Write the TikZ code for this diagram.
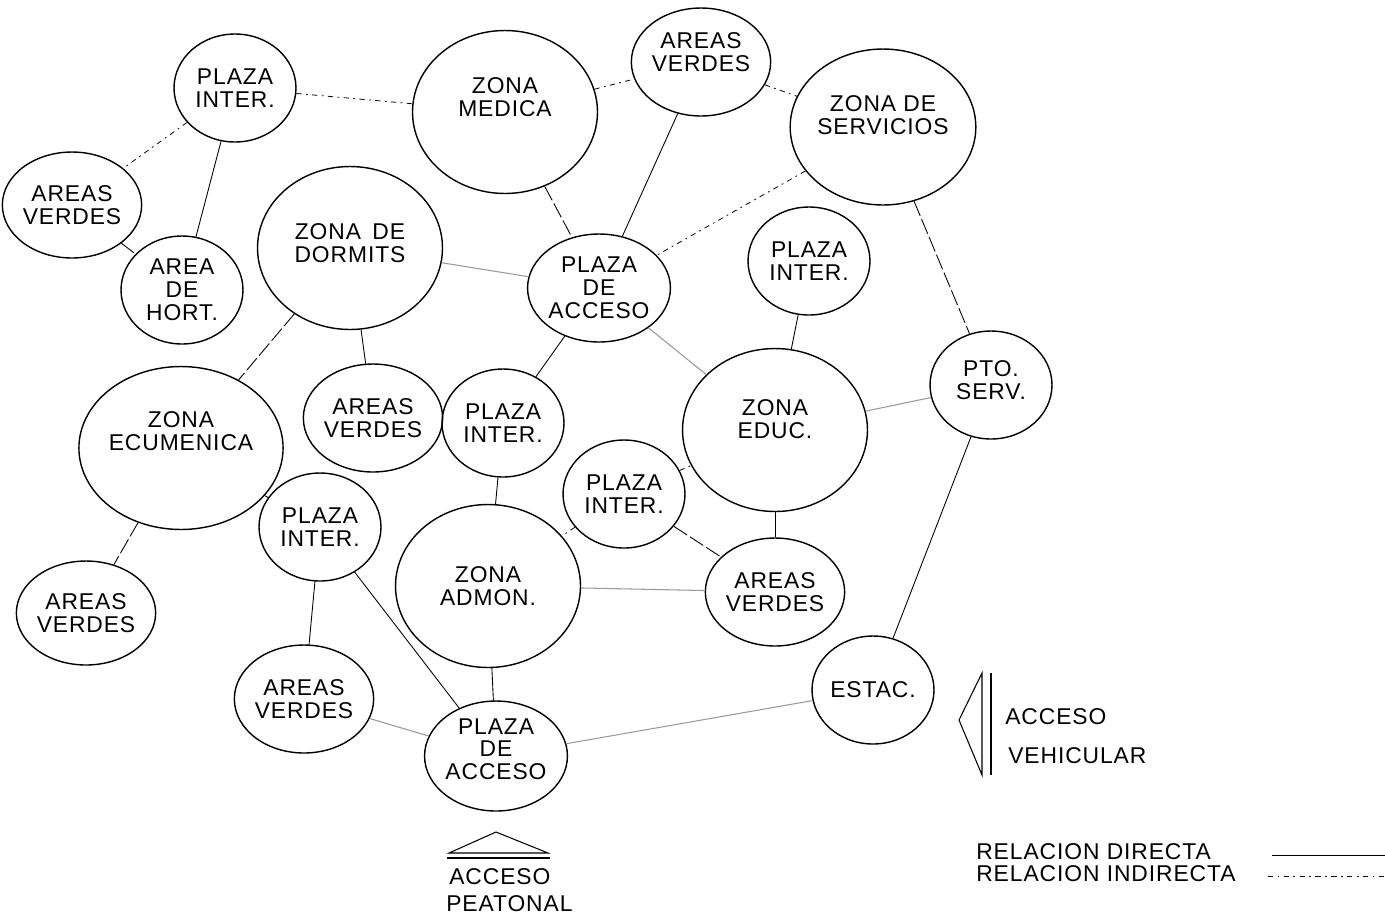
\documentclass[tikz,border=0pt]{standalone}
\usepackage{fontspec}
\setmainfont{Liberation Sans}
\usetikzlibrary{shapes.geometric}
\tikzset{
  zona/.style={ellipse, draw, line width=0.8pt, inner sep=0pt, align=center,
    font=\fontsize{13}{13}\selectfont\addfontfeature{LetterSpace=4}},
  chica/.style={zona, minimum width=2.44cm, minimum height=2.16cm},
  grande/.style={zona, minimum width=3.7cm, minimum height=3.26cm},
  sube/.style={text depth=#1},
  directa/.style={line width=0.5pt},
  discontinua/.style={line width=0.5pt, dash pattern=on 9pt off 2pt},
  indirecta/.style={line width=0.45pt, dash pattern=on 3pt off 2.5pt on 1pt off 2.5pt},
  tenue/.style={line width=0.6pt, black!40},
  rotulo/.style={font=\fontsize{13}{13}\selectfont\addfontfeature{LetterSpace=4}, inner sep=0pt, align=left}
}
\begin{document}
\begin{tikzpicture}[x=0.02cm, y=-0.02cm]
\useasboundingbox (0,0) rectangle (1385,917);

% zonas
\node[chica] (pit) at (235,88) {PLAZA\\INTER.};
\node[chica, minimum width=2.4cm, minimum height=2.12cm] (avi) at (72,205) {AREAS\\VERDES};
\node[chica] (hort) at (182,290) {AREA\\DE\\HORT.};
\node[grande, sube=0.2cm] (dorm) at (350,248) {ZONA\enspace DE\\DORMITS};
\node[grande, sube=0.6cm] (medica) at (505,112) {ZONA\\MEDICA};
\node[chica, sube=0.4cm] (avs) at (701,62) {AREAS\\VERDES};
\node[grande, minimum height=3.12cm, sube=0.48cm] (serv) at (883,127) {ZONA DE\\SERVICIOS};
\node[chica] (pacs) at (599,288) {PLAZA\\DE\\ACCESO};
\node[chica] (pid) at (809,261) {PLAZA\\INTER.};
\node[chica, sube=0.2cm] (pto) at (991,385) {PTO.\\SERV.};
\node[grande, sube=0.44cm] (educ) at (775,430) {ZONA\\EDUC.};
\node[grande, sube=0.68cm] (ecum) at (181,448) {ZONA\\ECUMENICA};
\node[chica] (avc) at (373,418) {AREAS\\VERDES};
\node[chica] (pic) at (503,423) {PLAZA\\INTER.};
\node[chica] (pim) at (624,494) {PLAZA\\INTER.};
\node[chica] (pii) at (320,527) {PLAZA\\INTER.};
\node[chica, minimum height=2.08cm] (avii) at (86,613) {AREAS\\VERDES};
\node[grande] (admon) at (488,586) {ZONA\\ADMON.};
\node[chica] (avd) at (775,592) {AREAS\\VERDES};
\node[chica] (avinf) at (304,699) {AREAS\\VERDES};
\node[chica, minimum height=2.2cm, sube=0.28cm] (paci) at (496,756) {PLAZA\\DE\\ACCESO};
\node[chica] (estac) at (873,690) {ESTAC.};

% relaciones
\draw[indirecta] (pit) -- (avi);
\draw[indirecta] (pit) -- (medica);
\draw[directa] (pit) -- (hort);
\draw[discontinua] (avi) -- (hort);
\draw[indirecta] (medica) -- (avs);
\draw[indirecta] (avs) -- (serv);
\draw[discontinua] (medica) -- (pacs);
\draw[directa] (avs) -- (pacs);
\draw[indirecta] (serv) -- (pacs);
\draw[discontinua] (serv) -- (pto);
\draw[tenue] (dorm) -- (pacs);
\draw[tenue] (pacs) -- (educ);
\draw[directa] (pid) -- (educ);
\draw[tenue] (pto) -- (educ);
\draw[directa] (pto) -- (estac);
\draw[discontinua] (dorm) -- (ecum);
\draw[directa] (dorm) -- (avc);
\draw[directa] (pacs) -- (pic);
\draw[directa] (pic) -- (admon);
\draw[indirecta] (pim) -- (admon);
\draw[indirecta] (pim) -- (educ);
\draw[discontinua] (pim) -- (avd);
\draw[tenue] (admon) -- (avd);
\draw[directa] (educ) -- (avd);
\draw[directa] (ecum) -- (pii);
\draw[discontinua] (ecum) -- (avii);
\draw[directa] (pii) -- (avinf);
\draw[directa] (pii) -- (paci);
\draw[directa] (admon) -- (paci);
\draw[tenue] (avinf) -- (paci);
\draw[tenue] (paci) -- (estac);

% accesos
\draw[line width=0.6pt] (496,832) -- (548,853) -- (449,853) -- cycle;
\draw[line width=0.6pt] (447,858) -- (550,858);
\node[rotulo, anchor=base west] (apeat) at (449,884) {ACCESO};
\node[rotulo, anchor=base west] (peat) at (446,911) {PEATONAL};
\draw[line width=0.6pt] (959,720) -- (982,673) -- (982,775) -- cycle;
\draw[line width=0.6pt] (991,673) -- (991,775);
\node[rotulo, anchor=base west] (aveh) at (1005,724) {ACCESO};
\node[rotulo, anchor=base west] (veh) at (1008,763) {VEHICULAR};

% simbologia
\node[rotulo, anchor=base west] (ldir) at (976,859) {RELACION DIRECTA};
\node[rotulo, anchor=base west] (lind) at (976,881) {RELACION INDIRECTA};
\coordinate (ldir1) at (1272,855);
\coordinate (ldir2) at (1385,855);
\coordinate (lind1) at (1268,876);
\coordinate (lind2) at (1385,876);
\draw[directa] (ldir1) -- (ldir2);
\draw[indirecta] (lind1) -- (lind2);
\end{tikzpicture}
\end{document}
